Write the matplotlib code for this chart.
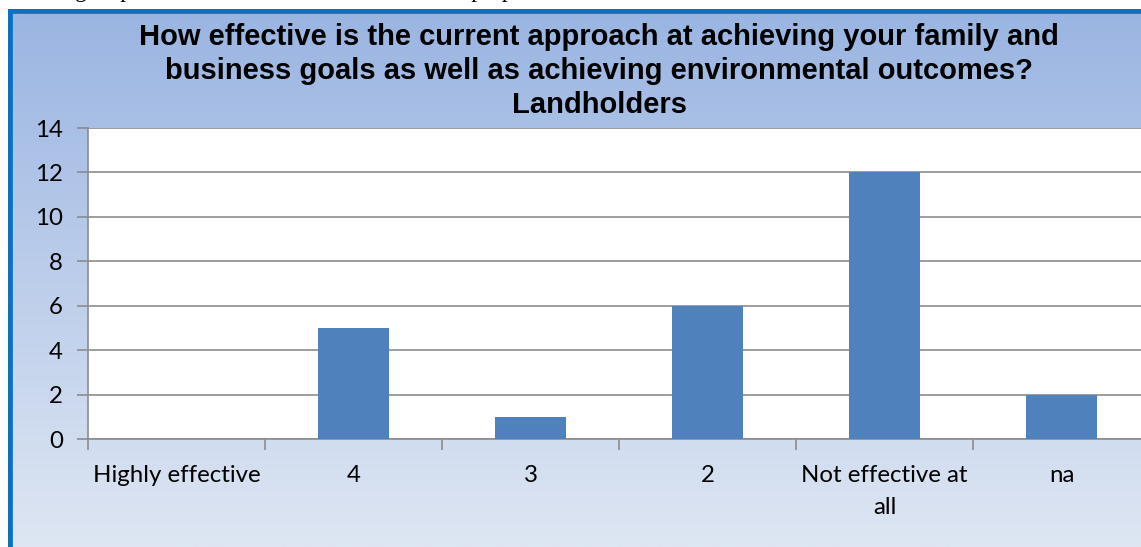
import matplotlib
matplotlib.use("Agg")
import matplotlib.pyplot as plt
import numpy as np

# data
categories = ["Highly effective", "4", "3", "2", "Not effective at\nall", "na"]
counts = [0, 5, 1, 6, 12, 2]
yticks = [0, 2, 4, 6, 8, 10, 12, 14]
title = ("How effective is the current approach at achieving your family and\n"
         "business goals as well as achieving environmental outcomes?\n"
         "Landholders")

W, H = 1141, 547
fig = plt.figure(figsize=(W / 100, H / 100), dpi=100)
fig.patch.set_facecolor("white")

# cut-off line of document text above the chart
fig.text(-2 / W, 1.0 + 3 / H, "achieving ample better in the outcomes for all their properties",
         family="Liberation Serif", fontsize=16.5, ha="left", va="baseline", color="black")

# chart area with gradient fill
bg = fig.add_axes([8 / W, 0, 1 - 8 / W, 1 - 9 / H])
grad = np.linspace(0, 1, 256).reshape(-1, 1)
top = np.array([0x9A, 0xB5, 0xE2]) / 255
bot = np.array([0xDE, 0xE6, 0xF3]) / 255
img = top + (bot - top) * grad[..., None]
bg.imshow(img, aspect="auto", extent=[0, 1, 0, 1])
bg.set_xlim(0, 1)
bg.set_ylim(0, 1)
bg.set_xticks([])
bg.set_yticks([])
for s in bg.spines.values():
    s.set_visible(False)
# blue frame (left and top visible)
bg.axvline(0, color="#0A70C2", lw=7)
bg.axhline(1, color="#0A70C2", lw=7)

fig.text(599 / W, 1 - 71 / H, title, ha="center", va="center", fontsize=21,
         fontweight="bold", family="Liberation Sans", linespacing=1.27)

# plot area
left, right, y0, y14 = 88, 1150, 439, 128
ax = fig.add_axes([left / W, 1 - y0 / H, (right - left) / W, (y0 - y14) / H])
ax.set_facecolor("white")
x = np.arange(len(categories))
ax.bar(x, counts, width=0.4, color="#4F81BD", zorder=3)
ax.set_xlim(-0.5, len(categories) - 0.5)
ax.set_ylim(0, 14)
ax.set_yticks(yticks)
ax.yaxis.grid(True, color="#8C8C8C", lw=1.2, zorder=0)
ax.set_xticks(x)
ax.set_xticklabels(categories, family="Lato", fontsize=17.3, linespacing=1.6)
ax.set_xticks(np.arange(len(categories) + 1) - 0.5, minor=True)
ax.tick_params(axis="x", which="major", length=0, pad=19)
ax.tick_params(axis="x", which="minor", length=8, color="#8C8C8C", width=1.2)
ax.tick_params(axis="y", length=8, color="#8C8C8C", width=1.2, pad=10)
for lab in ax.get_yticklabels():
    lab.set_family("Lato")
    lab.set_fontsize(17.3)
for name in ["top", "right"]:
    ax.spines[name].set_visible(False)
for name in ["left", "bottom"]:
    ax.spines[name].set_color("#8C8C8C")
    ax.spines[name].set_linewidth(1.2)

fig.savefig("out.png", dpi=100)
